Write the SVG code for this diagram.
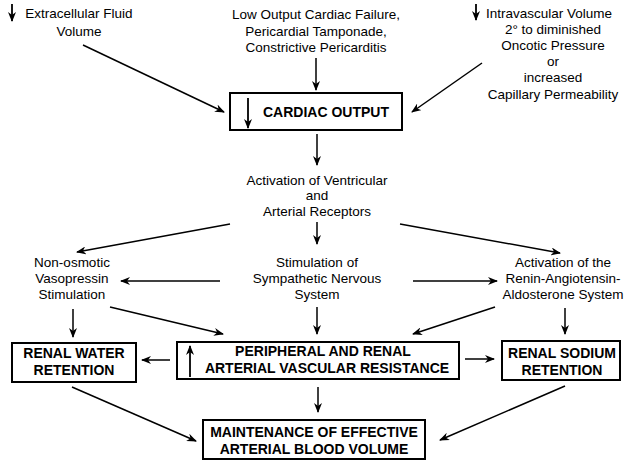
<svg xmlns="http://www.w3.org/2000/svg" width="624" height="462" viewBox="0 0 624 462">
<defs>
<marker id="ah" markerWidth="10" markerHeight="8" refX="9" refY="4" orient="auto" markerUnits="userSpaceOnUse">
<path d="M0,0 L10,4 L0,8 L3,4 Z" fill="#000"/>
</marker>
<style>
.t{font-family:"Liberation Sans",Arial,Helvetica,sans-serif;font-size:13.5px;fill:#000;text-anchor:middle}
.b{font-family:"Liberation Sans",Arial,Helvetica,sans-serif;font-size:14px;font-weight:bold;fill:#000;text-anchor:middle}
.box{fill:#fff;stroke:#000;stroke-width:2}
.c{fill:none;stroke:#000;stroke-width:1.5;marker-end:url(#ah)}
.sym{fill:none;stroke:#000;stroke-width:1.8;marker-end:url(#ah)}
</style>
</defs>
<rect width="624" height="462" fill="#fff"/>
<g id="ecf">
<path class="sym" d="M12,4 V21"/>
<text class="t" x="79" y="18">Extracellular Fluid</text>
<text class="t" x="79" y="36">Volume</text>
</g>
<g id="low-output">
<text class="t" x="316" y="19">Low Output Cardiac Failure,</text>
<text class="t" x="316" y="36">Pericardial Tamponade,</text>
<text class="t" x="316" y="52">Constrictive Pericarditis</text>
</g>
<g id="intravascular">
<path class="sym" d="M476,4 V20"/>
<text class="t" x="486" y="18" style="text-anchor:start">Intravascular Volume</text>
<text class="t" x="553" y="34">2° to diminished</text>
<text class="t" x="553" y="50">Oncotic Pressure</text>
<text class="t" x="553" y="66">or</text>
<text class="t" x="553" y="82">increased</text>
<text class="t" x="553" y="99">Capillary Permeability</text>
</g>
<g id="cardiac-output">
<rect class="box" x="230" y="93" width="172" height="37"/>
<path class="sym" d="M248,98 V128"/>
<text class="b" x="326" y="117">CARDIAC OUTPUT</text>
</g>
<g id="receptors">
<text class="t" x="317" y="185">Activation of Ventricular</text>
<text class="t" x="317" y="200">and</text>
<text class="t" x="317" y="216">Arterial Receptors</text>
</g>
<g id="vasopressin">
<text class="t" x="72" y="267">Non-osmotic</text>
<text class="t" x="72" y="283">Vasopressin</text>
<text class="t" x="72" y="299">Stimulation</text>
</g>
<g id="sympathetic">
<text class="t" x="317" y="267">Stimulation of</text>
<text class="t" x="317" y="283">Sympathetic Nervous</text>
<text class="t" x="317" y="299">System</text>
</g>
<g id="raas">
<text class="t" x="563" y="267">Activation of the</text>
<text class="t" x="563" y="283">Renin-Angiotensin-</text>
<text class="t" x="563" y="299">Aldosterone System</text>
</g>
<g id="renal-water">
<rect class="box" x="12" y="343" width="124" height="39"/>
<text class="b" x="74" y="358">RENAL WATER</text>
<text class="b" x="74" y="375">RETENTION</text>
</g>
<g id="resistance">
<rect class="box" x="177" y="342" width="282" height="37"/>
<path class="sym" d="M190,377 V346"/>
<text class="b" x="323" y="356">PERIPHERAL AND RENAL</text>
<text class="b" x="327" y="373">ARTERIAL VASCULAR RESISTANCE</text>
</g>
<g id="renal-sodium">
<rect class="box" x="502" y="341" width="118" height="39"/>
<text class="b" x="562" y="358">RENAL SODIUM</text>
<text class="b" x="562" y="375">RETENTION</text>
</g>
<g id="maintenance">
<rect class="box" x="203" y="420" width="222" height="39"/>
<text class="b" x="314" y="437">MAINTENANCE OF EFFECTIVE</text>
<text class="b" x="314" y="454">ARTERIAL BLOOD VOLUME</text>
</g>
<g id="connectors">
<path class="c" d="M83,45 L224,112"/>
<path class="c" d="M316,58 V90"/>
<path class="c" d="M482,63 L412,112"/>
<path class="c" d="M317,134 V165"/>
<path class="c" d="M230,224 L77,252"/>
<path class="c" d="M317,222 V244"/>
<path class="c" d="M400,224 L560,253"/>
<path class="c" d="M220,281 H121"/>
<path class="c" d="M413,281 H497"/>
<path class="c" d="M73,309 V337"/>
<path class="c" d="M110,307 L223,334"/>
<path class="c" d="M317,307 V334"/>
<path class="c" d="M495,307 L413,334"/>
<path class="c" d="M565,308 V334"/>
<path class="c" d="M170,360 H142"/>
<path class="c" d="M465,359 H494"/>
<path class="c" d="M318,387 V412"/>
<path class="c" d="M72,387 L196,441"/>
<path class="c" d="M565,386 L440,440"/>
</g>
</svg>
